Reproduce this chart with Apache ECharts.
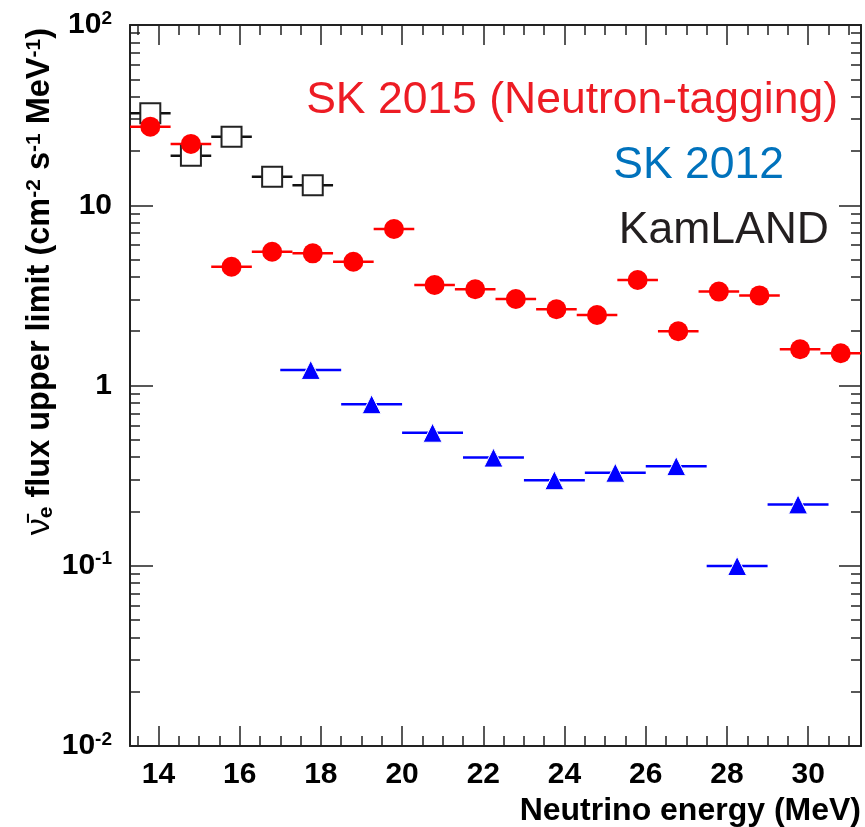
<!DOCTYPE html>
<html>
<head>
<meta charset="utf-8">
<script src="https://cdn.jsdelivr.net/npm/echarts@6/dist/echarts.min.js"></script>
<style>
html, body { margin: 0; padding: 0; background: #fff; }
#container { width: 865px; height: 827px; }
</style>
</head>
<body>
<div id="container"></div>
<script>
// SK 2015 (neutron tagging), 1 MeV bins
var sk2015Energy = [13.8, 14.8, 15.8, 16.8, 17.8, 18.8, 19.8, 20.8, 21.8, 22.8, 23.8, 24.8, 25.8, 26.8, 27.8, 28.8, 29.8, 30.8];
var sk2015Limit = [27.3, 21.9, 4.56, 5.52, 5.41, 4.86, 7.38, 3.61, 3.42, 3.02, 2.65, 2.46, 3.85, 2.00, 3.32, 3.16, 1.59, 1.51];
var sk2015HalfBin = 0.5;

// SK 2012, 1.5 MeV bins
var sk2012Energy = [17.75, 19.25, 20.75, 22.25, 23.75, 25.25, 26.75, 28.25, 29.75];
var sk2012Limit = [1.22, 0.787, 0.547, 0.398, 0.298, 0.328, 0.357, 0.0997, 0.219];
var sk2012HalfBin = 0.75;

// KamLAND
var kamlandEnergy = [13.8, 14.8, 15.8, 16.8, 17.8];
var kamlandLimit = [32.4, 18.8, 24.0, 14.4, 12.9];
var kamlandHalfBin = 0.5;

var xMajorTicks = [14, 16, 18, 20, 22, 24, 26, 28, 30];
var xMinorTicks = [13.5, 14, 14.5, 15, 15.5, 16, 16.5, 17, 17.5, 18, 18.5, 19, 19.5, 20, 20.5, 21, 21.5, 22, 22.5, 23, 23.5, 24, 24.5, 25, 25.5, 26, 26.5, 27, 27.5, 28, 28.5, 29, 29.5, 30, 30.5, 31];
var yMinorTicks = [0.02, 0.03, 0.04, 0.05, 0.06, 0.07, 0.08, 0.09,
                   0.2, 0.3, 0.4, 0.5, 0.6, 0.7, 0.8, 0.9,
                   2, 3, 4, 5, 6, 7, 8, 9,
                   20, 30, 40, 50, 60, 70, 80, 90];

var FONT = '"Liberation Sans", Arial, sans-serif';
var AXIS_COLOR = '#222';

var dom = document.getElementById('container');
var myChart = echarts.init(dom, null, { renderer: 'canvas' });

// horizontal bin-width bars, drawn through the chart's own scales
function binBars(centers, values, half, color) {
    return {
        type: 'custom',
        xAxisIndex: 0,
        yAxisIndex: 0,
        silent: true,
        data: centers.map(function (c, i) { return [c, values[i]]; }),
        renderItem: function (params, api) {
            var c = api.value(0);
            var v = api.value(1);
            var p1 = api.coord([c - half, v]);
            var p2 = api.coord([c + half, v]);
            return {
                type: 'line',
                shape: { x1: p1[0], y1: p1[1], x2: p2[0], y2: p2[1] },
                style: { stroke: color, lineWidth: 2.5 }
            };
        }
    };
}

function markers(centers, values, symbol, size, itemStyle) {
    itemStyle.opacity = 1;
    return {
        type: 'scatter',
        xAxisIndex: 0,
        yAxisIndex: 0,
        silent: true,
        symbol: symbol,
        symbolSize: size,
        itemStyle: itemStyle,
        data: centers.map(function (c, i) { return [c, values[i]]; })
    };
}

var yMinorLog = yMinorTicks.map(function (v) { return Math.log10(v); });

function xAxisDef(position, ticks, len, showLine, showLabel) {
    return {
        type: 'value',
        position: position,
        min: 13.3,
        max: 31.3,
        axisLine: { show: showLine, onZero: false, lineStyle: { color: AXIS_COLOR, width: 2 } },
        axisTick: { show: true, inside: true, length: len, customValues: ticks, lineStyle: { color: AXIS_COLOR, width: 1.5 } },
        axisLabel: { show: showLabel, customValues: ticks, margin: 14, color: '#000', fontFamily: FONT, fontWeight: 'bold', fontSize: 30 },
        splitLine: { show: false }
    };
}

var supStyle = { fontFamily: FONT, fontWeight: 'bold', fontSize: 21, lineHeight: 21, verticalAlign: 'top', fill: '#000' };
var subStyle = { fontFamily: FONT, fontWeight: 'bold', fontSize: 21, lineHeight: 21, verticalAlign: 'bottom', fill: '#000' };
var baseStyle = { fontFamily: FONT, fontWeight: 'bold', fontSize: 32.5, lineHeight: 33, fill: '#000' };
var nuStyle = { fontFamily: FONT, fontWeight: 'normal', fontSize: 34, lineHeight: 33, fill: '#000' };

var option = {
    animation: false,
    backgroundColor: '#fff',
    grid: { left: 130, right: 4, top: 25, bottom: 81, outerBoundsMode: 'none' },
    xAxis: [
        Object.assign(xAxisDef('bottom', xMajorTicks, 20, true, true), {
            name: 'Neutrino energy (MeV)',
            nameLocation: 'end',
            nameGap: 0,
            nameTextStyle: {
                color: '#000', fontFamily: FONT, fontWeight: 'bold', fontSize: 32,
                align: 'right', verticalAlign: 'top', padding: [49, 0, 0, 0]
            }
        }),
        xAxisDef('bottom', xMinorTicks, 10, false, false),
        xAxisDef('top', xMajorTicks, 20, true, false),
        xAxisDef('top', xMinorTicks, 10, false, false)
    ],
    yAxis: [
        {
            type: 'log',
            logBase: 10,
            position: 'left',
            min: 0.01,
            max: 100,
            axisLine: { show: true, lineStyle: { color: AXIS_COLOR, width: 2 } },
            axisTick: { show: true, inside: true, length: 23, lineStyle: { color: AXIS_COLOR, width: 1.5 } },
            axisLabel: {
                margin: 18,
                formatter: function (v) {
                    var p = Math.round(Math.log10(v));
                    if (p === 0) return '{b|1}';
                    if (p === 1) return '{b|10}';
                    return '{b|10}{s|' + p + '}';
                },
                rich: {
                    b: { fontFamily: FONT, fontWeight: 'bold', fontSize: 30, lineHeight: 32, color: '#000' },
                    s: { fontFamily: FONT, fontWeight: 'bold', fontSize: 19, lineHeight: 19, verticalAlign: 'top', color: '#000' }
                }
            },
            splitLine: { show: false }
        },
        {
            type: 'value', position: 'left', min: -2, max: 2,
            axisLine: { show: false },
            axisTick: { show: true, inside: true, length: 10, customValues: yMinorLog, lineStyle: { color: AXIS_COLOR, width: 1.5 } },
            axisLabel: { show: false },
            splitLine: { show: false }
        },
        {
            type: 'log', logBase: 10, position: 'right', min: 0.01, max: 100,
            axisLine: { show: true, lineStyle: { color: AXIS_COLOR, width: 2 } },
            axisTick: { show: true, inside: true, length: 22, lineStyle: { color: AXIS_COLOR, width: 1.5 } },
            axisLabel: { show: false },
            splitLine: { show: false }
        },
        {
            type: 'value', position: 'right', min: -2, max: 2,
            axisLine: { show: false },
            axisTick: { show: true, inside: true, length: 10, customValues: yMinorLog, lineStyle: { color: AXIS_COLOR, width: 1.5 } },
            axisLabel: { show: false },
            splitLine: { show: false }
        }
    ],
    graphic: [
        // y axis title, rotated
        { type: 'text', x: 40, y: 28, rotation: Math.PI / 2, silent: true,
          style: {
              text: '{v|\u03bd\u0304}{e|e}{n| flux upper limit (cm}{s|-2}{n| s}{s|-1}{n| MeV}{s|-1}{n|)}',
              fontFamily: FONT, fontWeight: 'bold', fontSize: 32, fill: '#000',
              align: 'right', verticalAlign: 'middle',
              rich: { n: baseStyle, v: nuStyle, e: subStyle, s: supStyle }
          } },
        { type: 'text', x: 838, y: 101, silent: true,
          style: { text: 'SK 2015 (Neutron-tagging)', fill: '#ed1c24', fontFamily: FONT, fontSize: 44.5, align: 'right', verticalAlign: 'middle' } },
        { type: 'text', x: 784, y: 166, silent: true,
          style: { text: 'SK 2012', fill: '#0072bc', fontFamily: FONT, fontSize: 44.5, align: 'right', verticalAlign: 'middle' } },
        { type: 'text', x: 829, y: 231, silent: true,
          style: { text: 'KamLAND', fill: '#231f20', fontFamily: FONT, fontSize: 44.5, align: 'right', verticalAlign: 'middle' } }
    ],
    series: [
        binBars(kamlandEnergy, kamlandLimit, kamlandHalfBin, '#111'),
        markers(kamlandEnergy, kamlandLimit, 'rect', 20, { color: '#fff', borderColor: '#222', borderWidth: 2 }),
        binBars(sk2015Energy, sk2015Limit, sk2015HalfBin, '#ff0000'),
        markers(sk2015Energy, sk2015Limit, 'circle', 20, { color: '#ff0000' }),
        binBars(sk2012Energy, sk2012Limit, sk2012HalfBin, '#0000ff'),
        markers(sk2012Energy, sk2012Limit, 'triangle', 19, { color: '#0000ff', borderColor: '#fff', borderWidth: 1 })
    ]
};

if (option && typeof option === 'object') {
    myChart.setOption(option);
}
</script>
</body>
</html>
